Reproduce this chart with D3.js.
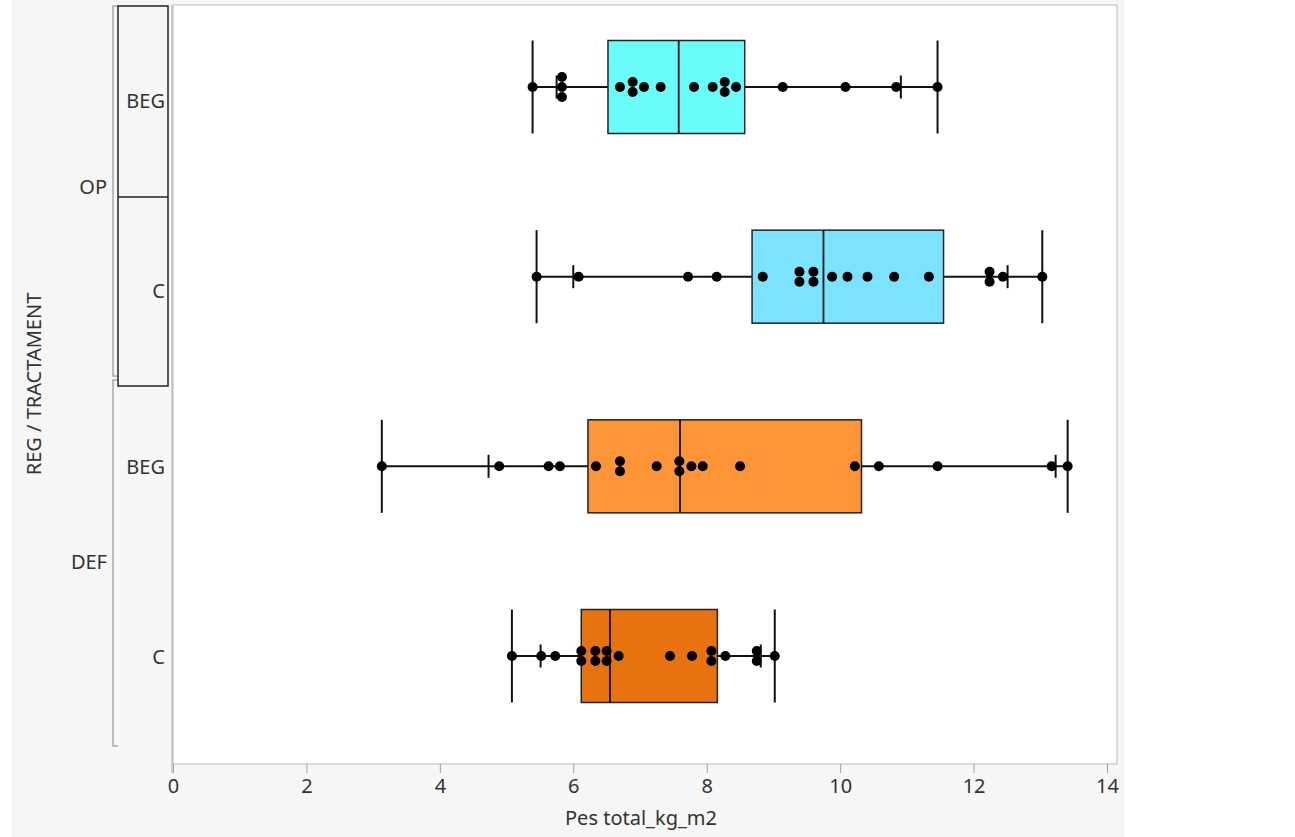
<!DOCTYPE html>
<html>
<head>
<meta charset="utf-8">
<script src="https://cdn.jsdelivr.net/npm/d3@7"></script>
<style>
  body { margin: 0; background: #ffffff; }
  text { font-family: "Segoe UI", "Noto Sans", "Open Sans", sans-serif; }
</style>
</head>
<body>
<div id="chart"></div>
<script>
// categories (top to bottom)
const groups = ['OP', 'OP', 'DEF', 'DEF'];
const treatments = ['BEG', 'C', 'BEG', 'C'];

// box plot summaries
const mins    = [5.39, 5.45, 3.13, 5.08];
const p10s    = [5.75, 6.00, 4.73, 5.51];
const q1s     = [6.52, 8.68, 6.22, 6.12];
const medians = [7.58, 9.75, 7.60, 6.55];
const q3s     = [8.57, 11.55, 10.32, 8.16];
const p90s    = [10.91, 12.51, 13.23, 8.81];
const maxs    = [11.46, 13.03, 13.41, 9.02];

// raw points per category
const pointsOpBeg  = [5.39, 5.83, 5.83, 5.83, 6.70, 6.89, 6.89, 7.06, 7.31, 7.81, 8.09, 8.27, 8.27, 8.44, 9.14, 10.08, 10.84, 11.46];
const pointsOpC    = [5.45, 6.08, 7.72, 8.15, 8.84, 9.39, 9.39, 9.60, 9.60, 9.88, 10.11, 10.41, 10.81, 11.33, 12.24, 12.24, 12.44, 13.03];
const pointsDefBeg = [3.13, 4.89, 5.63, 5.80, 6.34, 6.70, 6.70, 7.25, 7.59, 7.59, 7.77, 7.94, 8.50, 10.22, 10.58, 11.46, 13.17, 13.41];
const pointsDefC   = [5.08, 5.52, 5.73, 6.12, 6.12, 6.33, 6.33, 6.50, 6.50, 6.68, 7.45, 7.78, 8.07, 8.07, 8.28, 8.75, 8.75, 9.02];
const allPoints = [pointsOpBeg, pointsOpC, pointsDefBeg, pointsDefC];

const xTicks = [0, 2, 4, 6, 8, 10, 12, 14];
const boxColors = ['#68fcfa', '#7be3fe', '#fd9538', '#e6730e'];

const width = 1295, height = 837;
const plot = { left: 173, right: 1117, top: 5, bottom: 764 };
const fs = '20px';

const svg = d3.select('#chart').append('svg')
    .attr('width', width)
    .attr('height', height);

// backgrounds
svg.append('rect').attr('x', 11).attr('y', 0).attr('width', 1114).attr('height', height).attr('fill', '#f6f6f6');
svg.append('rect')
    .attr('x', plot.left).attr('y', plot.top)
    .attr('width', plot.right - plot.left).attr('height', plot.bottom - plot.top)
    .attr('fill', '#ffffff').attr('stroke', '#b9b9b9').attr('stroke-width', 1);

const keys = groups.map((g, i) => g + '|' + treatments[i]);
const x = d3.scaleLinear().domain([0, 14]).range([plot.left, 1107]);
const y = d3.scalePoint().domain(keys).range([87, 656]);

const boxH = 93, tickH = 23;

// x axis
const xAxis = svg.append('g')
    .attr('transform', `translate(0,${plot.bottom})`)
    .call(d3.axisBottom(x).tickValues(xTicks).tickSize(9).tickPadding(6));
xAxis.select('.domain').remove();
xAxis.selectAll('.tick line').attr('stroke', '#a0a0a0');
xAxis.selectAll('.tick text').attr('fill', '#333').style('font-size', fs)
    .style('font-family', '"Segoe UI", "Noto Sans", sans-serif');

svg.append('text')
    .attr('x', (plot.left + plot.right) / 2 - 4).attr('y', 825)
    .attr('text-anchor', 'middle').attr('fill', '#333').style('font-size', fs)
    .text('Pes total_kg_m2');

// left axis line
svg.append('line').attr('x1', plot.left - 1).attr('x2', plot.left - 1)
    .attr('y1', plot.top).attr('y2', plot.bottom + 9)
    .attr('stroke', '#a8a8a8');

// y title
svg.append('text')
    .attr('transform', 'translate(41,384) rotate(-90)')
    .attr('text-anchor', 'middle').attr('fill', '#333').style('font-size', fs)
    .text('REG / TRACTAMENT');

// group brackets
const groupNames = Array.from(new Set(groups));
const groupSpan = {
  OP: [6, 376],
  DEF: [380, 746]
};
groupNames.forEach(g => {
  const [y0, y1] = groupSpan[g];
  svg.append('path')
      .attr('d', `M118,${y0}H113V${y1}H118`)
      .attr('fill', 'none').attr('stroke', '#a8a8a8').attr('stroke-width', 1.5);
  const members = keys.filter((k, i) => groups[i] === g);
  const yc = d3.mean(members, k => y(k));
  svg.append('text')
      .attr('x', 107).attr('y', yc + (g === 'OP' ? 5 : 1))
      .attr('dy', '0.35em').attr('text-anchor', 'end')
      .attr('fill', '#333').style('font-size', fs)
      .text(g);
});

// selected-group outline (OP)
svg.append('rect').attr('x', 118).attr('y', 6).attr('width', 50).attr('height', 380)
    .attr('fill', 'none').attr('stroke', '#222').attr('stroke-width', 1.5);
svg.append('line').attr('x1', 118).attr('x2', 168).attr('y1', 197).attr('y2', 197)
    .attr('stroke', '#222').attr('stroke-width', 1.5);

// treatment labels
keys.forEach((k, i) => {
  svg.append('text')
      .attr('x', 165).attr('y', y(k) + (groups[i] === 'OP' ? 14 : 1))
      .attr('dy', '0.35em').attr('text-anchor', 'end')
      .attr('fill', '#333').style('font-size', fs)
      .text(treatments[i]);
});

// boxes
const rows = keys.map((k, i) => ({
  key: k, min: mins[i], p10: p10s[i], q1: q1s[i], med: medians[i],
  q3: q3s[i], p90: p90s[i], max: maxs[i], color: boxColors[i], pts: allPoints[i]
}));

const row = svg.append('g').selectAll('g')
  .data(rows)
  .join('g')
    .attr('transform', d => `translate(0,${y(d.key)})`);

row.append('line')
    .attr('x1', d => x(d.min)).attr('x2', d => x(d.max))
    .attr('stroke', '#111').attr('stroke-width', 2);

row.append('rect')
    .attr('x', d => x(d.q1)).attr('width', d => x(d.q3) - x(d.q1))
    .attr('y', -boxH / 2).attr('height', boxH)
    .attr('fill', d => d.color).attr('stroke', '#222').attr('stroke-width', 1.5);

row.append('line')
    .attr('x1', d => x(d.med)).attr('x2', d => x(d.med))
    .attr('y1', -boxH / 2).attr('y2', boxH / 2)
    .attr('stroke', '#111').attr('stroke-width', 1.8);

// whisker caps
['min', 'max'].forEach(f => {
  row.append('line')
      .attr('x1', d => x(d[f])).attr('x2', d => x(d[f]))
      .attr('y1', -boxH / 2).attr('y2', boxH / 2)
      .attr('stroke', '#111').attr('stroke-width', 2);
});
// 10% / 90% marks
['p10', 'p90'].forEach(f => {
  row.append('line')
      .attr('x1', d => x(d[f])).attr('x2', d => x(d[f]))
      .attr('y1', -tickH / 2).attr('y2', tickH / 2)
      .attr('stroke', '#111').attr('stroke-width', 2);
});

// points, equal values stacked vertically
row.each(function(d) {
  const counts = d3.rollup(d.pts, v => v.length, v => v);
  const seen = new Map();
  const placed = d.pts.map(v => {
    const n = counts.get(v);
    const i = seen.get(v) || 0;
    seen.set(v, i + 1);
    return { v, dy: (i - (n - 1) / 2) * 10 };
  });
  d3.select(this).selectAll('circle')
    .data(placed)
    .join('circle')
      .attr('cx', p => x(p.v)).attr('cy', p => p.dy)
      .attr('r', 5).attr('fill', '#000');
});
</script>
</body>
</html>
